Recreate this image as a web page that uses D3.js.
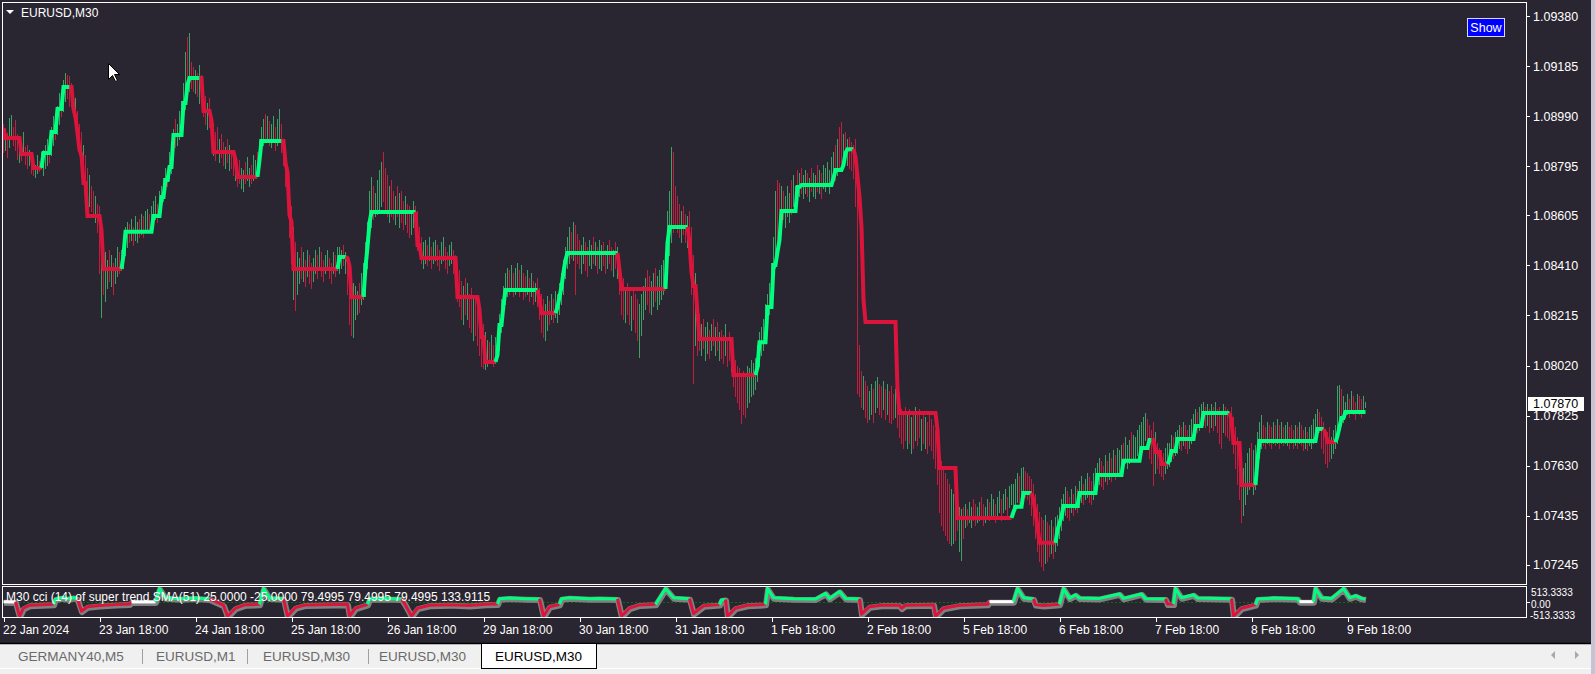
<!DOCTYPE html>
<html><head><meta charset="utf-8">
<script src="https://cdn.jsdelivr.net/npm/d3@7"></script>
<style>
html,body{margin:0;padding:0;background:#2a2631;overflow:hidden}
svg{display:block}
text{font-family:"Liberation Sans",Arial,sans-serif}
</style></head><body>
<svg id="c" width="1595" height="674"></svg>
<script>
// ---------------- DATA ----------------
// Prices are stored in points (0.00001) above 1.07000
const PRICE_BASE = 1.07000, POINT = 0.00001;
const symbolTitle = "EURUSD,M30";
const lastPrice = "1.07870";
const priceTicks = [1.09380,1.09185,1.08990,1.08795,1.08605,1.08410,1.08215,1.08020,1.07825,1.07630,1.07435,1.07245];
const timeLabels = ["22 Jan 2024","23 Jan 18:00","24 Jan 18:00","25 Jan 18:00","26 Jan 18:00","29 Jan 18:00","30 Jan 18:00","31 Jan 18:00","1 Feb 18:00","2 Feb 18:00","5 Feb 18:00","6 Feb 18:00","7 Feb 18:00","8 Feb 18:00","9 Feb 18:00"];
const barsPerLabel = 48;
const subTitle = "M30 cci (14) of super trend SMA(51) 25.0000 -25.0000 79.4995 79.4995 79.4995 133.9115";
const subLabels = ["513.3333","0.00","-513.3333"];
const tabs = ["GERMANY40,M5","EURUSD,M1","EURUSD,M30","EURUSD,M30","EURUSD,M30"];

const hiPts = [
1960,1940,1925,1985,1995,1950,1975,1920,1900,1890,1930,1870,1880,1860,1850,1830,1800,1840,1815,1850,
1860,1880,1900,1870,1950,1990,1970,2030,2080,2060,2130,2158,2150,2145,
2120,2080,2060,2010,1960,1930,1880,1840,1790,1760,1720,1700,1680,1650,1640,1560,1490,1460,1430,1470,1450,1420,1440,1480,1460,1470,
1520,1560,1580,1570,1590,1560,1600,1580,1590,1610,1600,1620,1630,1610,1640,1660,1680,1650,1700,1720,1750,1790,1780,1850,1880,1940,1980,1960,2010,2050,2120,2240,2300,2314,2200,2180,2170,2160,2190,
2150,2100,2070,2040,2060,2000,1960,1930,1950,1900,1920,1890,1870,1900,1880,1860,1850,1830,1800,1820,1790,1780,1810,1830,1790,1800,1840,1820,1850,
1900,1950,1980,2000,1990,1970,1960,1990,1950,1980,2020,1960,
1900,1850,1800,1720,1640,1560,1500,1460,1440,1480,1460,1430,1470,1450,1420,1440,1470,1450,1480,1460,1430,1450,1470,1440,1420,1460,1450,1480,
1480,1470,1490,1460,1440,1420,1360,1340,1330,1310,1340,1380,1420,
1500,1580,1700,1754,1720,1690,1740,1780,1810,1851,1790,1760,1720,1740,1700,1680,1720,1690,1700,1660,1680,1650,1640,1620,1660,1640,
1620,1560,1520,1500,1510,1490,1520,1480,1500,1510,1490,1470,1500,1520,1480,1460,1490,1500,1470,1450,1420,1390,1350,1330,1360,1340,1300,1320,1290,1280,1260,1240,1200,1180,1150,1120,1110,1140,1100,1130,
1150,1220,1280,1330,1380,1400,1390,1410,1380,1400,1420,1390,1410,1380,1370,1390,1360,1380,1350,1340,1360,
1320,1300,1280,1260,1290,1270,1300,1280,1310,
1300,1340,1380,1430,1480,1520,1560,1540,1580,1567,1530,1510,1490,1520,1500,1480,1510,1490,1520,1500,1480,1510,1490,1500,1470,1490,1510,1480,1470,1500,1480,
1420,1380,1360,1320,1340,1310,1290,1320,1300,1280,1260,1300,1330,1360,1390,1370,1350,1380,1400,1370,1390,1410,1430,1460,
1620,1700,1870,1850,1720,1680,1650,1620,1640,1610,1600,
1620,1560,1450,1380,1250,1220,1180,1200,1170,1190,1160,1180,1200,1170,1190,1150,1160,1140,1180,1130,1150,1100,1060,1040,1020,1010,980,1000,990,1020,1010,1040,1030,1050,
1100,1150,1170,1200,1260,1300,1340,1420,1520,1700,1742,1730,1720,1700,1680,1720,1690,1740,1760,1720,1780,1770,1790,1760,1780,1770,1750,1790,1770,1760,1800,1780,1770,1800,1790,1810,1780,1830,1850,1880,1900,1950,1968,1920,1930,1900,1910,1890,1880,
1900,1700,1100,1000,980,960,940,920,950,930,960,975,950,940,960,930,950,920,940,910,930,900,870,850,840,860,830,850,820,840,860,830,850,810,840,820,800,830,810,790,770,740,700,650,620,600,580,560,540,520,500,480,470,460,470,480,460,490,470,500,480,470,490,510,480,470,500,490,520,500,480,510,530,500,520,540,510,550,560,
560,580,600,590,620,625,610,600,590,580,
560,520,480,450,430,420,440,410,400,420,390,430,
440,470,500,520,547,530,510,540,520,550,540,570,590,560,580,600,586,570,600,620,640,660,650,630,670,650,680,660,690,670,700,690,710,720,740,710,730,760,750,740,770,790,800,820,835,810,790,770,
800,760,720,700,690,680,700,720,
720,750,740,760,770,790,780,800,790,770,790,810,830,850,840,860,870,878,860,870,850,870,860,878,850,860,840,870,860,850,840,
860,820,780,740,700,650,620,640,680,700,720,690,710,
760,800,827,790,780,800,790,780,800,790,810,790,800,780,790,800,780,790,770,790,780,800,790,770,780,760,780,790,810,830,850,840,820,800,770,760,780,740,770,790,
940,944,930,900,880,910,890,920,900,880,910,900,890,900,880];

const loPts = [
1850,1860,1830,1870,1900,1880,1860,1825,1810,1820,1850,1805,1790,1800,1770,1760,1755,1770,1775,1790,
1760,1790,1800,1810,1840,1880,1900,1920,1960,1990,2010,2050,2060,2030,
2030,1990,1950,1890,1840,1800,1730,1700,1690,1640,1620,1600,1580,1540,1380,1209,1300,1270,1320,1350,1330,1300,1340,1370,1380,1390,
1400,1450,1480,1500,1510,1490,1510,1500,1520,1530,1520,1540,1550,1540,1560,1580,1590,1580,1600,1640,1660,1700,1720,1740,1770,1840,1870,1880,1900,1930,1980,2020,2060,2090,2100,2090,2080,2070,2040,
2040,1990,1960,1940,1950,1900,1840,1820,1850,1810,1830,1800,1790,1810,1780,1790,1760,1740,1720,1730,1710,1700,1730,1740,1720,1730,1740,1750,1760,
1780,1840,1880,1900,1890,1880,1870,1890,1860,1880,1900,1850,
1800,1720,1650,1520,1420,1280,1236,1300,1340,1360,1350,1330,1370,1340,1320,1350,1380,1360,1390,1370,1350,1380,1390,1360,1340,1380,1370,1390,
1380,1400,1410,1380,1300,1180,1140,1130,1200,1220,1230,1260,1280,
1290,1400,1500,1560,1590,1600,1610,1620,1640,1660,1630,1600,1580,1600,1590,1570,1600,1560,1580,1550,1570,1540,1520,1530,1560,1540,
1470,1450,1420,1400,1420,1410,1430,1400,1420,1430,1410,1390,1420,1430,1400,1380,1410,1420,1380,1350,1270,1250,1200,1180,1220,1200,1170,1150,1120,1140,1100,1060,1020,1010,1006,1020,1030,1040,1020,1030,
1040,1080,1150,1220,1260,1290,1300,1310,1290,1300,1320,1290,1310,1280,1290,1300,1270,1290,1260,1270,1250,
1200,1150,1130,1119,1160,1180,1200,1190,1210,
1190,1220,1260,1300,1360,1400,1420,1440,1430,1300,1420,1400,1380,1420,1390,1370,1410,1400,1420,1410,1380,1400,1390,1410,1380,1400,1420,1390,1370,1400,1360,
1300,1220,1200,1190,1220,1180,1160,1200,1150,1120,1053,1140,1200,1240,1260,1230,1220,1250,1270,1240,1260,1280,1300,1320,
1380,1450,1500,1540,1560,1540,1520,1500,1530,1500,1480,
1440,1300,952,1100,1060,1080,1060,1090,1040,1070,1050,1080,1100,1060,1080,1040,1050,1030,1060,1020,1040,1000,940,900,880,850,796,830,820,860,880,900,910,930,
960,1020,1060,1080,1120,1180,1220,1260,1320,1400,1480,1540,1580,1590,1560,1600,1580,1610,1640,1620,1660,1680,1690,1670,1690,1680,1660,1700,1680,1670,1700,1690,1670,1710,1700,1720,1690,1720,1730,1740,1760,1780,1800,1820,1810,1800,1790,1780,1750,
1640,913,900,860,850,820,800,810,830,800,840,860,830,820,850,810,830,800,796,810,820,780,740,720,700,730,700,720,680,700,730,710,740,690,720,700,680,710,690,660,620,560,450,400,380,360,340,330,320,330,340,380,300,263,350,390,400,410,390,420,400,410,420,430,400,410,430,420,440,430,410,440,450,420,450,460,440,470,480,
440,470,490,480,500,520,510,500,480,440,
400,350,300,260,240,224,250,260,280,290,270,300,
320,350,380,420,440,430,420,450,440,460,450,470,490,480,500,510,490,480,500,520,540,560,550,540,570,560,580,570,590,580,600,590,610,620,640,620,640,650,660,650,670,680,690,710,730,700,660,640,
555,600,620,600,590,580,600,620,
630,650,660,670,680,700,690,710,700,680,700,720,740,750,760,770,780,790,780,790,760,780,770,790,760,720,700,760,750,740,730,
740,680,620,560,500,411,440,480,520,540,560,520,540,
600,660,700,710,700,720,710,700,720,710,720,700,720,710,720,710,700,720,700,710,700,720,710,690,700,690,710,700,720,740,760,760,700,680,640,625,650,660,680,700,
720,760,790,800,820,830,820,840,830,810,840,830,820,850,860];

// 1 = bullish bar, 0 = bearish bar
const barUp = [
0,1,0,1,1,0,0,0,1,0,1,0,0,1,0,0,1,1,0,1,
1,1,1,0,1,1,0,1,1,0,1,1,0,0,
0,0,1,0,0,0,1,0,0,1,0,0,1,0,0,1,0,1,1,0,1,0,1,1,0,1,
1,1,1,0,1,0,1,1,0,1,0,1,1,0,1,1,1,0,1,1,1,1,0,1,1,1,0,1,1,1,1,1,0,1,0,0,1,0,1,
0,0,0,1,0,0,1,0,0,1,0,0,1,0,1,0,0,1,0,0,1,1,0,1,1,0,1,1,0,
1,1,1,0,1,0,1,1,0,1,1,0,
0,0,0,0,0,1,0,1,1,0,1,0,1,0,0,1,1,0,1,0,0,1,1,0,0,1,0,1,
1,1,0,1,0,0,0,1,1,1,0,1,1,
1,1,1,1,0,1,1,1,1,0,0,0,1,0,0,1,0,1,0,0,1,0,0,1,1,0,
0,0,0,1,1,0,1,0,1,1,0,0,1,1,0,0,1,1,0,0,0,0,0,1,0,1,0,0,1,0,0,0,0,0,1,1,0,1,0,1,
1,1,1,1,1,1,0,1,0,1,1,0,1,0,0,1,0,1,0,1,0,
0,0,0,1,1,0,1,0,1,
1,1,1,1,1,1,1,0,1,0,0,0,1,1,0,0,1,1,0,1,0,1,1,0,0,1,0,0,1,0,1,
0,0,0,1,0,0,1,0,0,0,1,1,1,1,0,0,1,1,0,1,1,1,1,1,
1,1,1,0,0,0,0,1,0,0,1,
0,0,0,1,0,0,1,0,1,1,0,1,0,1,0,1,0,0,1,0,0,1,0,0,0,0,0,0,0,1,1,1,1,1,
1,1,1,1,1,1,1,1,1,1,0,0,1,0,1,1,1,0,1,1,0,1,0,1,1,0,1,0,1,1,0,1,0,1,1,1,1,1,1,0,1,0,0,1,0,1,0,0,0,
0,0,0,0,1,0,0,1,1,0,1,1,0,0,1,0,1,0,0,0,1,0,0,0,0,0,1,0,1,0,1,0,0,1,0,1,0,0,0,0,0,0,0,0,0,0,0,0,1,1,0,0,1,1,0,1,0,1,1,0,0,1,1,0,0,1,1,0,1,1,0,1,1,0,1,1,0,1,1,
1,1,1,0,1,1,0,0,0,0,
0,0,0,0,0,0,1,0,0,1,0,1,
1,1,1,1,1,0,0,1,0,1,0,1,1,0,1,1,0,0,1,1,1,1,0,0,1,0,1,0,1,0,1,1,1,0,1,1,1,0,1,1,1,1,1,1,1,0,0,0,
0,1,0,0,0,0,1,1,
1,1,0,1,1,1,0,1,0,0,1,1,1,1,0,1,1,1,0,1,0,1,0,1,0,0,0,1,0,0,0,
0,0,0,0,0,0,1,1,1,1,0,1,1,
1,1,1,0,0,1,0,0,1,0,1,0,1,0,1,1,0,0,0,1,0,1,0,0,1,0,1,1,1,1,1,0,0,0,0,0,0,1,1,1,
1,1,0,1,1,1,0,1,0,0,1,0,0,1,1];

// Super trend: [first bar of the step, level in points, direction 1 = up / -1 = down]
const superTrend = [
[0,1944,-1],[1,1905,-1],[9,1843,-1],[15,1789,-1],
[20,1847,1],[24,1929,1],[27,2018,1],[30,2104,1],
[34,2104,-1],[35,2018,-1],[36,1987,-1],[37,1925,-1],[38,1859,-1],[39,1839,-1],[40,1730,-1],[42,1602,-1],[49,1547,-1],[50,1396,-1],
[60,1450,1],[61,1541,1],[75,1602,1],[79,1676,1],[81,1742,1],[83,1792,1],[85,1917,1],[90,2041,1],[92,2112,1],[93,2139,1],
[99,2139,-1],[100,2010,-1],[104,1975,-1],[105,1851,-1],[116,1820,-1],[117,1754,-1],
[128,1820,1],[129,1894,1],
[140,1894,-1],[141,1808,-1],[142,1773,-1],[143,1606,-1],[144,1578,-1],[145,1396,-1],
[168,1442,1],
[172,1438,-1],[173,1407,-1],[174,1287,-1],
[181,1403,1],[182,1481,1],[183,1575,1],[184,1617,1],
[207,1489,-1],[209,1438,-1],[227,1287,-1],[238,1236,-1],[239,1131,-1],[241,1034,-1],
[247,1061,1],[248,1178,1],[250,1256,1],[251,1314,1],
[268,1275,-1],[269,1224,-1],
[277,1248,1],[278,1287,1],[279,1326,1],[280,1384,1],[281,1431,1],[282,1458,1],
[308,1392,-1],[309,1318,-1],
[332,1497,1],[333,1559,1],
[343,1501,-1],[344,1384,-1],[345,1329,-1],[347,1224,-1],[348,1123,-1],[365,983,-1],
[377,1014,1],[378,1111,1],[382,1248,1],[385,1411,1],[387,1462,1],[388,1508,1],[389,1621,1],[397,1715,1],[399,1722,1],[415,1750,1],[416,1781,1],[420,1800,1],[421,1847,1],[422,1862,1],
[426,1831,-1],[427,1754,-1],[428,1676,-1],[429,1559,-1],[430,1275,-1],[431,1189,-1],[447,925,-1],[448,835,-1],[467,769,-1],[468,621,-1],[477,427,-1],
[505,450,1],[506,470,1],[510,524,1],
[515,497,-1],[516,446,-1],[517,392,-1],[518,330,-1],
[527,380,1],[528,407,1],[529,431,1],[530,473,1],[538,524,1],[547,594,1],[560,649,1],[569,699,1],[573,730,1],
[575,730,-1],[576,684,-1],[579,637,-1],
[583,652,1],[584,687,1],[587,734,1],[596,785,1],[600,835,1],
[614,808,-1],[615,719,-1],[619,555,-1],
[627,652,1],[628,726,1],[657,773,1],
[661,757,-1],[662,722,-1],
[667,746,1],[668,781,1],[669,816,1],[671,839,1]];

// CCI sub window: [bar, value, colour of the stretch that starts here]
const cciPoints = [
[0,20,"w"],[6,10,"r"],[8,-470,"r"],[10,-200,"r"],[13,-100,"r"],[25,-70,"g"],[26,110,"g"],[29,150,"g"],[32,120,"g"],[35,160,"g"],
[37,110,"r"],[39,-300,"r"],[42,-150,"r"],[48,-110,"r"],[56,-80,"r"],[63,-60,"r"],[64,10,"w"],[76,10,"g"],[78,460,"g"],[81,150,"g"],
[88,120,"g"],[96,140,"g"],[103,110,"r"],[110,-100,"r"],[112,-470,"r"],[116,-200,"r"],[121,-80,"r"],[128,-70,"g"],[130,460,"g"],[133,140,"g"],
[140,120,"r"],[142,-470,"r"],[146,-180,"r"],[151,-90,"r"],[172,-70,"r"],[173,-470,"r"],[176,-200,"r"],[182,-70,"g"],[183,120,"g"],[191,130,"g"],
[199,110,"r"],[201,-100,"r"],[204,-470,"r"],[207,-200,"r"],[213,-100,"r"],[223,-80,"r"],[233,-110,"r"],[241,-70,"r"],[247,-60,"g"],[248,120,"g"],
[253,140,"g"],[261,120,"g"],[268,110,"r"],[270,-470,"r"],[273,-150,"r"],[278,-70,"g"],[279,120,"g"],[283,150,"g"],[293,120,"g"],[298,130,"g"],
[307,110,"r"],[309,-470,"r"],[313,-200,"r"],[318,-90,"r"],[326,-70,"g"],[331,460,"g"],[335,150,"g"],[343,120,"r"],[345,-380,"r"],[350,-120,"r"],
[358,-80,"g"],[359,80,"g"],[361,90,"r"],[362,-470,"r"],[366,-200,"r"],[372,-100,"r"],[381,-70,"g"],[382,460,"g"],[385,150,"g"],[395,120,"g"],
[406,110,"g"],[411,300,"g"],[413,130,"g"],[418,360,"g"],[421,130,"g"],[428,110,"r"],[429,-400,"r"],[433,-150,"r"],[440,-90,"r"],[448,-100,"r"],
[449,-200,"r"],[451,-100,"r"],[465,-80,"r"],[466,-470,"r"],[470,-200,"r"],[478,-100,"r"],[492,-70,"r"],[493,20,"w"],[505,20,"g"],[507,460,"g"],
[510,150,"g"],[515,110,"r"],[516,-80,"r"],[520,-110,"r"],[528,-70,"g"],[530,460,"g"],[533,140,"g"],[536,250,"g"],[538,140,"g"],[548,130,"g"],
[558,280,"g"],[560,130,"g"],[569,280,"g"],[571,120,"g"],[581,110,"r"],[582,-60,"r"],[585,-60,"g"],[586,460,"g"],[589,150,"g"],[595,250,"g"],
[597,140,"g"],[614,120,"r"],[615,-470,"r"],[619,-200,"r"],[626,-80,"g"],[627,110,"g"],[635,140,"g"],[647,120,"g"],[648,20,"w"],[655,20,"g"],
[656,460,"g"],[659,150,"g"],[664,130,"g"],[670,460,"g"],[673,150,"g"],[676,220,"g"],[679,130,"g"],[681,110,"g"]];

// ---------------- DRAWING ----------------
const W = 1595, H = 674;
const BG = "#2a2631", FG = "#ffffff";
const ST_UP = "#00ff7f", ST_DN = "#dc143c";
const BAR_UP = "#3fa066", BAR_DN = "#c01e3e";
const N = hiPts.length;
const price = p => PRICE_BASE + p * POINT;

const svg = d3.select("#c");
svg.append("rect").attr("width", W).attr("height", H).attr("fill", BG);

const x = d3.scaleLinear().domain([0, N - 1]).range([3, 3 + 2 * (N - 1)]);
const y = d3.scaleLinear().domain([1.07245, 1.09380]).range([564.7, 16]);
const yc = d3.scaleLinear().domain([-513.3333, 513.3333]).range([617.5, 587]);

const defs = svg.append("defs");
defs.append("clipPath").attr("id", "mainClip").append("rect").attr("x", 3).attr("y", 3).attr("width", 1523).attr("height", 581);
defs.append("clipPath").attr("id", "subClip").append("rect").attr("x", 3).attr("y", 587).attr("width", 1523).attr("height", 30);

// bars
const gMain = svg.append("g").attr("clip-path", "url(#mainClip)");
gMain.append("g").attr("shape-rendering", "crispEdges")
  .selectAll("rect").data(d3.range(N)).join("rect")
  .attr("x", i => Math.round(x(i)))
  .attr("y", i => Math.round(y(price(hiPts[i]))))
  .attr("width", 1)
  .attr("height", i => Math.max(1, Math.round(y(price(loPts[i]))) - Math.round(y(price(hiPts[i]))) + 1))
  .attr("fill", i => barUp[i] ? BAR_UP : BAR_DN);

// super trend per bar
const stVal = new Array(N), stDir = new Array(N);
superTrend.forEach((s, k) => {
  const end = k + 1 < superTrend.length ? superTrend[k + 1][0] : N;
  for (let i = s[0]; i < end; i++) { stVal[i] = s[1]; stDir[i] = s[2]; }
});
const runs = [];
let cur = null;
for (let i = 0; i < N; i++) {
  if (!cur || cur.dir !== stDir[i]) {
    cur = { dir: stDir[i], pts: i > 0 ? [i - 1] : [] };
    runs.push(cur);
  }
  cur.pts.push(i);
}
const stLine = d3.line().x(i => x(i) + 0.5).y(i => y(price(stVal[i])));
gMain.append("g").selectAll("path").data(runs).join("path")
  .attr("d", r => stLine(r.pts))
  .attr("fill", "none")
  .attr("stroke", r => r.dir > 0 ? ST_UP : ST_DN)
  .attr("stroke-width", 4)
  .attr("stroke-linejoin", "miter");

// frames
svg.append("rect").attr("x", 2.5).attr("y", 2.5).attr("width", 1524).attr("height", 582)
  .attr("fill", "none").attr("stroke", FG).attr("shape-rendering", "crispEdges");
svg.append("rect").attr("x", 2.5).attr("y", 586.5).attr("width", 1524).attr("height", 31)
  .attr("fill", "none").attr("stroke", FG).attr("shape-rendering", "crispEdges");

// price axis
const yAxis = d3.axisRight(y).tickValues(priceTicks).tickFormat(d3.format(".5f")).tickSize(3).tickPadding(3);
const gy = svg.append("g").attr("transform", "translate(1527,0)").call(yAxis);
gy.select(".domain").remove();
gy.selectAll("line").attr("stroke", FG).attr("shape-rendering", "crispEdges");
gy.selectAll("text").attr("fill", FG).attr("font-size", 12.5).attr("font-family", "Liberation Sans, Arial, sans-serif");

// last price tag
const lpY = y(+lastPrice);
svg.append("rect").attr("x", 1528).attr("y", Math.round(lpY) - 7).attr("width", 56).attr("height", 14).attr("fill", "#ffffff");
svg.append("text").attr("x", 1533).attr("y", lpY).attr("dy", "0.35em").attr("fill", "#000000").attr("font-size", 12.5).text(lastPrice);

// time axis
const xAxis = d3.axisBottom(x).tickValues(timeLabels.map((d, i) => i * barsPerLabel))
  .tickFormat((d, i) => timeLabels[i]).tickSize(4).tickPadding(3);
const gx = svg.append("g").attr("transform", "translate(0.5,618)").call(xAxis);
gx.select(".domain").remove();
gx.selectAll("line").attr("stroke", FG).attr("shape-rendering", "crispEdges");
gx.selectAll("text").attr("fill", FG).attr("font-size", 12).attr("text-anchor", "start").attr("dx", -1)
  .attr("font-family", "Liberation Sans, Arial, sans-serif");

// sub window: zero line, CCI
const gSub = svg.append("g").attr("clip-path", "url(#subClip)");
gSub.append("line").attr("x1", x(0)).attr("x2", x(N - 1)).attr("y1", Math.round(yc(0)) + 0.5).attr("y2", Math.round(yc(0)) + 0.5)
  .attr("stroke", "#0a6e0a").attr("stroke-dasharray", "2,2");
const cLine = d3.line().x(p => x(p[0]) + 0.5).y(p => yc(p[1]));
gSub.append("path").attr("d", cLine(cciPoints)).attr("fill", "none").attr("stroke", "#808080")
  .attr("stroke-width", 6).attr("stroke-linejoin", "round").attr("transform", "translate(0.5,1)");
const cRuns = [];
let cr = null;
for (let k = 0; k < cciPoints.length - 1; k++) {
  const col = cciPoints[k][2];
  if (!cr || cr.col !== col) { cr = { col, pts: [cciPoints[k]] }; cRuns.push(cr); }
  cr.pts.push(cciPoints[k + 1]);
}
const cCol = { g: ST_UP, r: ST_DN, w: "#ffffff" };
gSub.append("g").selectAll("path").data(cRuns).join("path")
  .attr("d", r => cLine(r.pts)).attr("fill", "none").attr("stroke", r => cCol[r.col])
  .attr("stroke-width", 3).attr("stroke-linejoin", "round");

svg.append("text").attr("x", 6).attr("y", 601).attr("fill", FG).attr("font-size", 12).text(subTitle);

// sub axis (labels stacked tightly like the reference, without overlapping)
svg.append("line").attr("x1", 1527).attr("x2", 1530).attr("y1", Math.round(yc(0)) + 0.5).attr("y2", Math.round(yc(0)) + 0.5).attr("stroke", FG);
svg.append("text").attr("x", 1531).attr("y", 596).attr("fill", FG).attr("font-size", 10).text(subLabels[0]);
svg.append("text").attr("x", 1531).attr("y", 607.5).attr("fill", FG).attr("font-size", 10).text(subLabels[1]);
svg.append("text").attr("x", 1530).attr("y", 619).attr("fill", FG).attr("font-size", 10).text(subLabels[2]);

// title
svg.append("path").attr("d", "M6,10 L14,10 L10,14 Z").attr("fill", FG);
svg.append("text").attr("x", 21).attr("y", 17).attr("fill", FG).attr("font-size", 12).text(symbolTitle);

// Show button
svg.append("rect").attr("x", 1467.5).attr("y", 18.5).attr("width", 37).attr("height", 18)
  .attr("fill", "#0000ff").attr("stroke", "#d8d8ff").attr("shape-rendering", "crispEdges");
svg.append("text").attr("x", 1486).attr("y", 32).attr("text-anchor", "middle").attr("fill", "#ffffff").attr("font-size", 12.5).text("Show");

// mouse cursor
svg.append("path").attr("d", "M108.5,63.5 L108.5,79.5 L112.5,75.5 L115.5,81.5 L117.5,80.5 L114.5,74.5 L119.5,74.5 Z")
  .attr("fill", "#ffffff").attr("stroke", "#000000").attr("stroke-width", 1);

// tab bar
svg.append("rect").attr("x", 0).attr("y", 643).attr("width", W).attr("height", 31).attr("fill", "#f0f0f0");
svg.append("line").attr("x1", 0).attr("x2", W).attr("y1", 643.5).attr("y2", 643.5).attr("stroke", "#000").attr("stroke-width", 1.5);
svg.append("line").attr("x1", 0).attr("x2", W).attr("y1", 668.5).attr("y2", 668.5).attr("stroke", "#ffffff");
svg.append("rect").attr("x", 481.5).attr("y", 643.5).attr("width", 115).attr("height", 25)
  .attr("fill", "#ffffff").attr("stroke", "#000").attr("shape-rendering", "crispEdges");
const tabX = [18, 156, 263, 379, 495];
tabs.forEach((t, i) => {
  svg.append("text").attr("x", tabX[i]).attr("y", 661).attr("fill", i === 4 ? "#000" : "#6a6a6a")
    .attr("font-size", 13.5).text(t);
});
[142, 247, 368].forEach(sx => svg.append("line").attr("x1", sx + 0.5).attr("x2", sx + 0.5)
  .attr("y1", 649).attr("y2", 664).attr("stroke", "#a0a0a0"));
svg.append("path").attr("d", "M1551,655 L1555,651 L1555,659 Z").attr("fill", "#a8a8a8");
svg.append("path").attr("d", "M1579,655 L1575,651 L1575,659 Z").attr("fill", "#a8a8a8");
svg.append("rect").attr("x", 1591).attr("y", 0).attr("width", 4).attr("height", H).attr("fill", "#c4c4d4");
</script>
</body></html>
